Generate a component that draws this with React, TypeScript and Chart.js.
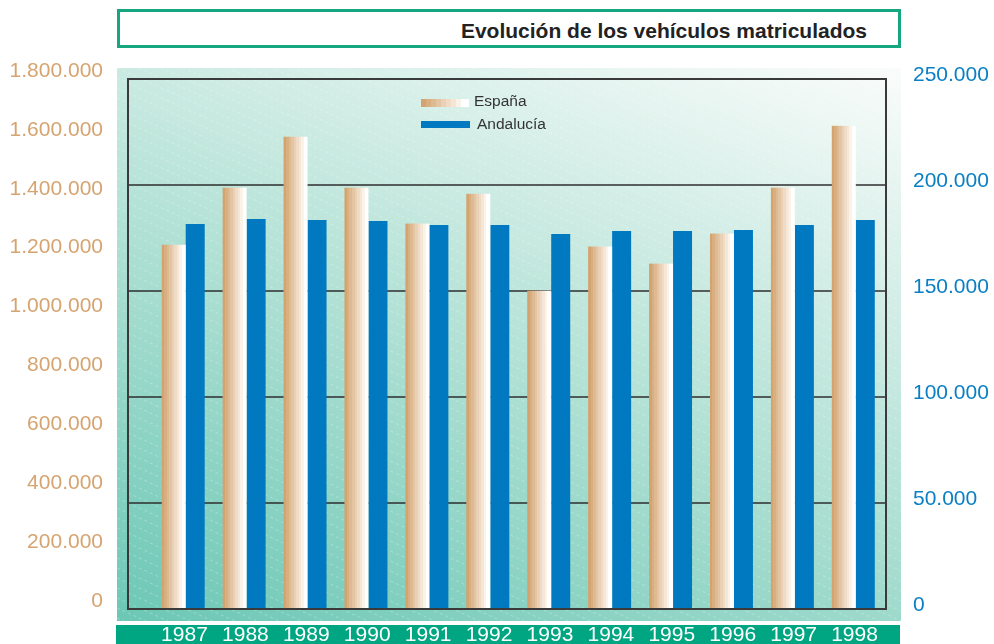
import React, { useEffect, useRef } from 'react';
import { Chart, registerables } from 'chart.js';

Chart.register(...registerables);

// ---- data ----
const years = ['1987', '1988', '1989', '1990', '1991', '1992', '1993', '1994', '1995', '1996', '1997', '1998'];
const espana = [1237000, 1431000, 1604000, 1431000, 1309000, 1410000, 1081000, 1231000, 1173000, 1275000, 1431000, 1641000];
const andalucia = [181600, 184000, 183500, 183000, 181100, 181100, 176900, 178300, 178300, 178800, 181100, 183500];
const seriesNames = ['España', 'Andalucía'];
const titleText = 'Evolución de los vehículos matriculados';
const leftMax = 1800000;
const leftStep = 200000;
const rightMax = 250000;
const rightStep = 50000;

// ---- styles ----
const FONT = '"Liberation Sans", Arial, Helvetica, sans-serif';
const TAN = 'rgb(214,164,112)';
const BLUE = 'rgb(0,121,193)';
const BLUE_TXT = 'rgb(10,127,196)';
const GREEN = 'rgb(0,166,130)';

const fmt = (v: number) => String(Math.round(v)).replace(/\B(?=(\d{3})+(?!\d))/g, '.');

function espGradient(ctx: CanvasRenderingContext2D, x0: number, w: number) {
  const g = ctx.createLinearGradient(x0, 0, x0 + w, 0);
  const bands = 8;
  const whiteStart = 0.84;
  const a = [211, 163, 112];
  const b = [251, 242, 232];
  for (let i = 0; i < bands; i++) {
    const t = i / (bands - 1);
    const c = `rgb(${Math.round(a[0] + (b[0] - a[0]) * t)},${Math.round(a[1] + (b[1] - a[1]) * t)},${Math.round(a[2] + (b[2] - a[2]) * t)})`;
    g.addColorStop((i / bands) * whiteStart, c);
    g.addColorStop(((i + 1) / bands) * whiteStart - 0.001, c);
  }
  g.addColorStop(whiteStart, '#ffffff');
  g.addColorStop(1, '#ffffff');
  return g;
}

const decorPlugin = {
  id: 'decor',
  beforeDraw(chart: any) {
    const ctx: CanvasRenderingContext2D = chart.ctx;
    const px = 117, py = 68, pw = 784, ph = 553;
    ctx.save();
    const g = ctx.createLinearGradient(px, py + ph, px + 275, py + ph - 742);
    g.addColorStop(0, 'rgb(108,199,181)');
    g.addColorStop(0.5, 'rgb(180,226,214)');
    g.addColorStop(1, 'rgb(250,252,251)');
    ctx.fillStyle = g;
    ctx.fillRect(px, py, pw, ph);
    // subtle diagonal dashed hatch
    ctx.beginPath();
    ctx.rect(px, py, pw, ph);
    ctx.clip();
    ctx.strokeStyle = 'rgba(255,255,255,0.28)';
    ctx.lineWidth = 1;
    ctx.setLineDash([3, 3]);
    for (let off = -420; off < ph + 10; off += 10) {
      ctx.beginPath();
      ctx.moveTo(px, py + off);
      ctx.lineTo(px + pw, py + off + pw * 0.45);
      ctx.stroke();
    }
    ctx.restore();
    // green band under the chart
    ctx.save();
    ctx.fillStyle = GREEN;
    ctx.fillRect(116, 625, 784, 19);
    ctx.restore();
  },
  beforeDatasetsDraw(chart: any) {
    const ctx: CanvasRenderingContext2D = chart.ctx;
    const s = chart.scales.y1;
    ctx.save();
    ctx.strokeStyle = '#2e2e2e';
    ctx.lineWidth = 1.6;
    s.ticks.forEach((t: any) => {
      if (t.value <= 0 || t.value >= s.max) return;
      const y = s.getPixelForValue(t.value);
      ctx.beginPath();
      ctx.moveTo(128, y);
      ctx.lineTo(886, y);
      ctx.stroke();
    });
    ctx.restore();
  },
  beforeDatasetDraw(chart: any, args: any) {
    if (args.index !== 0) return;
    const ctx: CanvasRenderingContext2D = chart.ctx;
    ctx.save();
    args.meta.data.forEach((el: any) => {
      const p = el.getProps(['x', 'y', 'base', 'width'], true);
      const x0 = p.x - p.width / 2;
      ctx.fillStyle = espGradient(ctx, x0, p.width);
      ctx.fillRect(x0, p.y, p.width, p.base - p.y);
    });
    ctx.restore();
    return false;
  },
  afterDatasetsDraw(chart: any) {
    const ctx: CanvasRenderingContext2D = chart.ctx;
    const { top, bottom } = chart.chartArea;
    ctx.save();
    ctx.strokeStyle = '#3a3a3a';
    ctx.lineWidth = 2;
    ctx.strokeRect(128, top, 886 - 128, bottom - top);
    // legend
    ctx.fillStyle = espGradient(ctx, 421, 48);
    ctx.fillRect(421, 99, 48, 8);
    ctx.fillStyle = BLUE;
    ctx.fillRect(421, 121, 49, 7);
    ctx.fillStyle = '#333333';
    ctx.font = `15.5px ${FONT}`;
    ctx.textBaseline = 'middle';
    ctx.textAlign = 'left';
    ctx.fillText(seriesNames[0], 474, 102);
    ctx.fillText(seriesNames[1], 477, 125);
    ctx.restore();
  },
};

const fitVertical = (w: number) => (s: any) => {
  s.width = w;
  s.paddingTop = 0;
  s.paddingBottom = 0;
};

export default function App() {
  const ref = useRef<HTMLCanvasElement | null>(null);

  useEffect(() => {
    if (!ref.current) return;
    Chart.defaults.font.family = FONT;
    const chart = new Chart(ref.current, {
      type: 'bar',
      data: {
        labels: years,
        datasets: [
          {
            label: seriesNames[0],
            data: espana,
            yAxisID: 'y',
            backgroundColor: TAN,
            categoryPercentage: 0.706,
            barPercentage: 1.116,
          },
          {
            label: seriesNames[1],
            data: andalucia,
            yAxisID: 'y1',
            backgroundColor: BLUE,
            categoryPercentage: 0.706,
            barPercentage: 0.884,
          },
        ],
      },
      options: {
        responsive: false,
        maintainAspectRatio: false,
        animation: false,
        devicePixelRatio: 1,
        layout: { padding: { top: 79, left: 0, right: 0, bottom: 0 } },
        plugins: { legend: { display: false }, tooltip: { enabled: false }, title: { display: false } },
        scales: {
          x: {
            grid: { display: false, drawTicks: false },
            border: { display: false },
            ticks: { color: '#ffffff', font: { size: 21, family: FONT }, padding: 14, maxRotation: 0, autoSkip: false },
            afterFit: (s: any) => {
              s.height = 35;
              s.paddingLeft = 0;
              s.paddingRight = 0;
            },
          },
          y: {
            position: 'left',
            min: 0,
            max: leftMax,
            grid: { display: false, drawTicks: false },
            border: { display: false },
            ticks: {
              stepSize: leftStep,
              color: TAN,
              font: { size: 21, family: FONT },
              padding: 51,
              labelOffset: -8,
              callback: (v: any) => fmt(Number(v)),
            },
            afterFit: fitVertical(154),
          },
          y1: {
            position: 'right',
            min: 0,
            max: rightMax,
            grid: { display: false, drawTicks: false },
            border: { display: false },
            ticks: {
              stepSize: rightStep,
              color: BLUE_TXT,
              font: { size: 21, family: FONT },
              padding: 28,
              labelOffset: -4,
              callback: (v: any) => fmt(Number(v)),
            },
            afterFit: fitVertical(109),
          },
        },
      } as any,
      plugins: [decorPlugin as any],
    });
    return () => chart.destroy();
  }, []);

  return (
    <div style={{ position: 'absolute', left: 0, top: 0, width: 994, height: 644, background: '#ffffff', overflow: 'hidden' }}>
      <canvas ref={ref} width={994} height={644} style={{ position: 'absolute', left: 0, top: 0, width: 994, height: 644 }} />
      <div
        style={{
          position: 'absolute',
          left: 117,
          top: 9,
          width: 784,
          height: 39,
          boxSizing: 'border-box',
          border: '3px solid rgb(22,166,128)',
          background: '#ffffff',
          fontFamily: FONT,
          fontWeight: 'bold',
          fontSize: 21,
          color: '#222222',
          textAlign: 'right',
          paddingRight: 31,
          paddingTop: 4,
          lineHeight: '30px',
          whiteSpace: 'nowrap',
        }}
      >
        {titleText}
      </div>
    </div>
  );
}
